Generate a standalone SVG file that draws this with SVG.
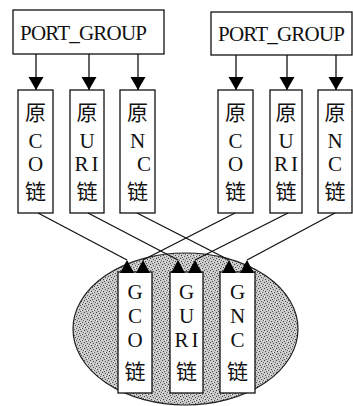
<svg xmlns="http://www.w3.org/2000/svg" width="353" height="406" viewBox="0 0 353 406">
<style>
.box{fill:#fff;stroke:#111;stroke-width:1.3}
.t{font-family:"Liberation Serif","Noto Sans CJK SC",serif;font-size:21px;fill:#111;text-anchor:middle}
.c{font-family:"Noto Sans CJK SC",sans-serif;font-size:21px;fill:#111;text-anchor:middle}
.pg{font-family:"Liberation Serif",serif;font-size:21px;fill:#111}
.ln{stroke:#111;stroke-width:1.3;fill:none}
</style>
<defs>
<marker id="ah" markerUnits="userSpaceOnUse" markerWidth="14" markerHeight="16" refX="13" refY="7.5" orient="auto" viewBox="0 0 14 15">
<path d="M0,0 L13,7.5 L0,15 Z" fill="#000"/>
</marker>
<marker id="up" markerUnits="userSpaceOnUse" markerWidth="14" markerHeight="16" refX="13" refY="7" orient="270" viewBox="0 0 14 14">
<path d="M0,0 L13,7 L0,14 Z" fill="#000"/>
</marker>
<pattern id="stip" patternUnits="userSpaceOnUse" width="6" height="6">
<rect width="6" height="6" fill="#c9c9c9"/>
<rect x="0" y="0" width="1" height="1" fill="#444"/>
<rect x="3" y="1" width="1" height="1" fill="#555"/>
<rect x="1" y="3" width="1" height="1" fill="#444"/>
<rect x="4" y="4" width="1" height="1" fill="#555"/>
<rect x="5" y="2" width="1" height="1" fill="#666"/>
<rect x="2" y="5" width="1" height="1" fill="#555"/>
<rect x="3" y="4" width="1" height="1" fill="#eee"/>
<rect x="0" y="2" width="1" height="1" fill="#eee"/>
</pattern>
</defs>

<g id="ellipse">
<ellipse cx="185.5" cy="329" rx="112.5" ry="76" fill="url(#stip)" stroke="#222" stroke-width="1.2"/>
</g>

<g id="pg-left">
<rect class="box" x="13" y="10" width="151" height="44"/>
<text class="pg" x="20" y="40" textLength="127" lengthAdjust="spacing">PORT_GROUP</text>
</g>
<g id="pg-right">
<rect class="box" x="211" y="12" width="141" height="43"/>
<text class="pg" x="218" y="41" textLength="127" lengthAdjust="spacing">PORT_GROUP</text>
</g>

<g id="l-co">
<rect class="box" x="18" y="90" width="35" height="123"/>
<text class="c" x="35.5" y="120">原</text><text class="t" x="35.5" y="148">C</text><text class="t" x="35.5" y="171">O</text><text class="c" x="35.5" y="199">链</text>
</g>
<g id="l-uri">
<rect class="box" x="70" y="90" width="34" height="123"/>
<text class="c" x="87" y="120">原</text><text class="t" x="87" y="148">U</text><text class="t" x="88" y="171" letter-spacing="3">RI</text><text class="c" x="87" y="199">链</text>
</g>
<g id="l-nc">
<rect class="box" x="120" y="90" width="35" height="123"/>
<text class="c" x="137.5" y="120">原</text><text class="t" x="137.5" y="148">N</text><text class="t" x="144" y="171">C</text><text class="c" x="137.5" y="199">链</text>
</g>

<g id="r-co">
<rect class="box" x="218" y="90" width="35" height="123"/>
<text class="c" x="235.5" y="120">原</text><text class="t" x="235.5" y="148">C</text><text class="t" x="235.5" y="171">O</text><text class="c" x="235.5" y="199">链</text>
</g>
<g id="r-uri">
<rect class="box" x="270" y="90" width="32" height="123"/>
<text class="c" x="286" y="120">原</text><text class="t" x="286" y="148">U</text><text class="t" x="287.5" y="171" letter-spacing="3">RI</text><text class="c" x="286" y="199">链</text>
</g>
<g id="r-nc">
<rect class="box" x="318" y="90" width="34" height="123"/>
<text class="c" x="335" y="120">原</text><text class="t" x="335" y="148">N</text><text class="t" x="335" y="171">C</text><text class="c" x="335" y="199">链</text>
</g>

<g id="g-co">
<rect class="box" x="118" y="272" width="34" height="121"/>
<text class="t" x="135" y="299">G</text><text class="t" x="135" y="323">C</text><text class="t" x="135" y="347">O</text><text class="c" x="135" y="379">链</text>
</g>
<g id="g-uri">
<rect class="box" x="170" y="272" width="33" height="121"/>
<text class="t" x="186.5" y="299">G</text><text class="t" x="186.5" y="323">U</text><text class="t" x="188" y="347" letter-spacing="3">RI</text><text class="c" x="186.5" y="379">链</text>
</g>
<g id="g-nc">
<rect class="box" x="220" y="272" width="35" height="121"/>
<text class="t" x="237.5" y="299">G</text><text class="t" x="237.5" y="323">N</text><text class="t" x="237.5" y="347">C</text><text class="c" x="237.5" y="379">链</text>
</g>

<g id="connectors">
<line class="ln" x1="36" y1="54" x2="36" y2="90" marker-end="url(#ah)"/>
<line class="ln" x1="89" y1="54" x2="89" y2="90" marker-end="url(#ah)"/>
<line class="ln" x1="138" y1="54" x2="138" y2="90" marker-end="url(#ah)"/>
<line class="ln" x1="236" y1="55" x2="236" y2="90" marker-end="url(#ah)"/>
<line class="ln" x1="287" y1="55" x2="287" y2="90" marker-end="url(#ah)"/>
<line class="ln" x1="336" y1="55" x2="336" y2="90" marker-end="url(#ah)"/>
<line class="ln" x1="38" y1="213" x2="127" y2="260" marker-end="url(#up)"/>
<line class="ln" x1="88" y1="213" x2="178" y2="260" marker-end="url(#up)"/>
<line class="ln" x1="137" y1="213" x2="229" y2="260" marker-end="url(#up)"/>
<line class="ln" x1="235" y1="213" x2="143" y2="260" marker-end="url(#up)"/>
<line class="ln" x1="288" y1="213" x2="195" y2="260" marker-end="url(#up)"/>
<line class="ln" x1="335" y1="213" x2="247" y2="260" marker-end="url(#up)"/>
</g>
</svg>
